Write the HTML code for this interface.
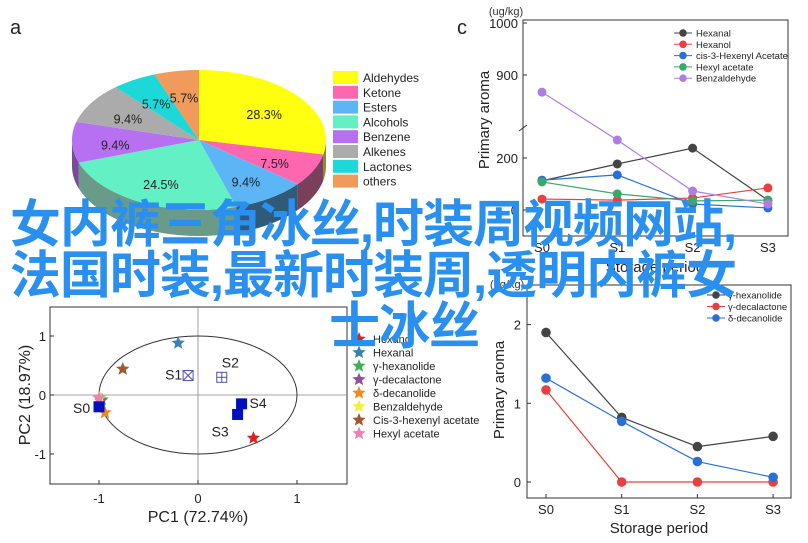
<!DOCTYPE html>
<html><head><meta charset="utf-8">
<style>
body{margin:0;background:#fff;width:808px;height:543px;overflow:hidden;position:relative;font-family:"Liberation Sans",sans-serif}
svg{position:absolute;left:0;top:0}
.ov{position:absolute;width:808px;text-align:center;font-family:"Liberation Sans","Noto Sans CJK SC",sans-serif;font-weight:bold;font-size:51px;line-height:51px;color:#2a90f0;letter-spacing:-1px;white-space:nowrap}
</style></head><body>
<svg id="chart" width="808" height="543" xmlns="http://www.w3.org/2000/svg" font-family="Liberation Sans, sans-serif"></svg>
<div class="ov" style="left:-31px;top:199px">女内裤三角冰丝,时装周视频网站,<br>法国时装,最新时装周,透明内裤女</div>
<div class="ov" style="left:0;top:301px">士冰丝</div>
<script>
// ---- Panel a data
const pieCats=["Aldehydes","Ketone","Esters","Alcohols","Benzene","Alkenes","Lactones","others"];
const pieVals=[28.3,7.5,9.4,24.5,9.4,9.4,5.7,5.7];
// ---- Panel c data
const cCats=["S0","S1","S2","S3"];
const cSeriesNames=["Hexanal","Hexanol","cis-3-Hexenyl Acetate","Hexyl acetate","Benzaldehyde"];
const cHexanal=[112,177,238,38];
const cHexanol=[42,38,46,85];
const cCis3=[115,135,23,8];
const cHexylAc=[108,62,35,38];
const cBenzald=[867,269,73,23];
// ---- Panel b data
const bLoadNames=["Hexanol","Hexanal","γ-hexanolide","γ-decalactone","δ-decanolide","Benzaldehyde","Cis-3-hexenyl acetate","Hexyl acetate"];
const bLoadX=[0.56,-0.2,-0.97,-0.98,-0.94,-0.99,-0.76,-1.0];
const bLoadY=[-0.73,0.88,-0.08,-0.1,-0.3,-0.05,0.44,-0.05];
const bSampNames=["S0","S1","S2","S3","S4"];
const bSampX=[-1.0,-0.1,0.24,0.4,0.44];
const bSampY=[-0.2,0.33,0.3,-0.33,-0.15];
// ---- Panel d data
const dCats=["S0","S1","S2","S3"];
const dNames=["γ-hexanolide","γ-decalactone","δ-decanolide"];
const dHex=[1.9,0.82,0.45,0.58];
const dDec=[1.17,0,0,0];
const dDel=[1.32,0.77,0.26,0.06];

const svg=document.getElementById('chart');
const NS="http://www.w3.org/2000/svg";
function mk(tag,attrs,parent,text){const e=document.createElementNS(NS,tag);for(const k in attrs)e.setAttribute(k,attrs[k]);if(text!==undefined)e.textContent=text;(parent||svg).appendChild(e);return e;}
function grp(name){const g=mk('g',{});return g;}

// ===== Panel a: 3D pie
(function(){
const g=grp('pie-chart-panel-a');
const t=mk('text',{x:10,y:34,'font-size':20,fill:'#222'},g,'a');

const cx=199,cy=140,rx=127,ry=70,depth=26;
const cols=["#ffff10","#ff66b0","#5cb6f6","#62f0c4","#b870f2","#ababab","#1cd8d8","#f09a5c"];
const side=["#8a8a30","#7a3f5a","#2f5a78","#6a9a8a","#7a4a9a","#666","#117878","#8a5a3a"];
const total=pieVals.reduce((a,b)=>a+b,0);
const P=(th,dy)=>[cx+rx*Math.cos(th),cy+ry*Math.sin(th)+(dy||0)];
let a=-Math.PI/2;const ang=[];
pieVals.forEach(v=>{const b=a+v/total*2*Math.PI;ang.push([a,b]);a=b;});
ang.forEach(([a0,a1],i)=>{
  const segs=[[Math.max(a0,0),Math.min(a1,Math.PI)],[Math.max(a0,2*Math.PI),Math.min(a1,3*Math.PI)]];
  segs.forEach(([s,e])=>{if(e<=s)return;
    let pts=[];for(let k=0;k<=20;k++){pts.push(P(s+(e-s)*k/20));}
    for(let k=20;k>=0;k--){pts.push(P(s+(e-s)*k/20,depth));}
    const p=mk('polygon',{points:pts.map(q=>q.join(',')).join(' '),fill:side[i]},g);
    
  });
});
ang.forEach(([a0,a1],i)=>{
  let d=`M${cx},${cy}`;for(let k=0;k<=30;k++){const q=P(a0+(a1-a0)*k/30);d+=` L${q[0]},${q[1]}`;}d+='Z';
  const p=mk('path',{d,fill:cols[i]},g);
  
  const m=(a0+a1)/2;const lp=[cx+rx*0.66*Math.cos(m),cy+ry*0.66*Math.sin(m)+4];
  const l=mk('text',{x:lp[0],y:lp[1]+4,'font-size':12.5,'text-anchor':'middle',fill:'#222'},g,pieVals[i].toFixed(1)+'%');
  
});
pieCats.forEach((c,i)=>{
  const y=71+i*14.8;
  const r=mk('rect',{x:333,y:y,width:25,height:13,fill:cols[i]},g);
  
  const t=mk('text',{x:363,y:y+11,'font-size':12,fill:'#222'},g,c);
  
});
})();

// ===== Panel c: broken axis lines
(function(){
const g=grp('line-chart-panel-c');
const L=523,R=788,T=20,B=236;
const xs=i=>542+i*75.3;
const yv=v=>v>=750? 23+(1000-v)*0.52 : 210-v*0.26;
const lab=mk('text',{x:457,y:34,'font-size':20,fill:'#222'},g,'c');
const u=mk('text',{x:506,y:15,'font-size':11,'text-anchor':'middle',fill:'#333'},g,'(ug/kg)');
const fr=mk('rect',{x:L,y:T,width:R-L,height:B-T,fill:'none',stroke:'#333','stroke-width':1},g);
mk('line',{x1:L-4,y1:131,x2:L+4,y2:125,stroke:'#333'},g);
[[1000,23],[900,75],[200,158],[0,210]].forEach(([v,y])=>{
  mk('line',{x1:L,y1:y,x2:L+4,y2:y,stroke:'#333'},g);
  const t=mk('text',{x:L-5,y:y+5,'font-size':13,'text-anchor':'end',fill:'#222'},g,String(v));
});
cCats.forEach((c,i)=>{const t=mk('text',{x:xs(i),y:252,'font-size':13,'text-anchor':'middle',fill:'#222'},g,c);});
const yt=mk('text',{x:0,y:0,'font-size':15,'text-anchor':'middle',fill:'#222',transform:'translate(489,120) rotate(-90)'},g,'Primary aroma');
const xt=mk('text',{x:655,y:272,'font-size':15,'text-anchor':'middle',fill:'#222'},g,'Storage period');
const series=[cHexanal,cHexanol,cCis3,cHexylAc,cBenzald];
const cols=["#444","#e84040","#2a6fd6","#3aa86a","#b07ee0"];
series.forEach((s,si)=>{
  const pts=s.map((v,i)=>xs(i)+','+yv(v)).join(' ');
  const pl=mk('polyline',{points:pts,fill:'none',stroke:cols[si],'stroke-width':1.2},g);
  
  s.forEach((v,i)=>{const c=mk('circle',{cx:xs(i),cy:yv(v),r:4.5,fill:cols[si]},g);});
  const y=33+si*11.3;
  mk('line',{x1:674,y1:y,x2:692,y2:y,stroke:cols[si]},g);
  mk('circle',{cx:683,cy:y,r:3.8,fill:cols[si]},g);
  const t=mk('text',{x:696,y:y+3.5,'font-size':9.5,fill:'#222'},g,cSeriesNames[si]);
});
})();

// ===== Panel b: PCA
(function(){
const g=grp('pca-plot-panel-b');
const L=50,R=347,T=307,B=484;
const xs=v=>198+v*99, ys=v=>395-v*59;
const fr=mk('rect',{x:L,y:T,width:R-L,height:B-T,fill:'none',stroke:'#333'},g);
mk('line',{x1:L,y1:395,x2:R,y2:395,stroke:'#888','stroke-width':0.8},g);
mk('line',{x1:198,y1:T,x2:198,y2:B,stroke:'#888','stroke-width':0.8},g);
const el=mk('ellipse',{cx:198,cy:395,rx:99,ry:59,fill:'none',stroke:'#333','stroke-width':1},g);
[-1,0,1].forEach(v=>{
  const t=mk('text',{x:xs(v),y:503,'font-size':13,'text-anchor':'middle',fill:'#222'},g,String(v));
  const t2=mk('text',{x:L-4,y:ys(v)+5,'font-size':13,'text-anchor':'end',fill:'#222'},g,String(v));
  mk('line',{x1:xs(v),y1:B,x2:xs(v),y2:B-4,stroke:'#333'},g);mk('line',{x1:L,y1:ys(v),x2:L+4,y2:ys(v),stroke:'#333'},g);
});
const xt=mk('text',{x:198,y:522,'font-size':16,'text-anchor':'middle',fill:'#222'},g,'PC1 (72.74%)');
const yt=mk('text',{x:0,y:0,'font-size':16,'text-anchor':'middle',fill:'#222',transform:'translate(30,395) rotate(-90)'},g,'PC2 (18.97%)');
const cols=["#e02020","#3a80b0","#40b050","#9050a0","#f08a20","#f0f040","#a05a30","#f080b0"];
function star(x,y,r,c){let p=[];for(let k=0;k<10;k++){const a=-Math.PI/2+k*Math.PI/5;const rr=k%2?r*0.45:r;p.push((x+rr*Math.cos(a))+','+(y+rr*Math.sin(a)));}return mk('polygon',{points:p.join(' '),fill:c},g);}
bLoadNames.forEach((n,i)=>{
  const s=star(xs(bLoadX[i]),ys(bLoadY[i]),7,cols[i]);
  const y=339+i*13.5;
  star(359,y,7,cols[i]);
  const t=mk('text',{x:373,y:y+4,'font-size':11,fill:'#222'},g,n);
});
bSampNames.forEach((n,i)=>{
  const x=xs(bSampX[i]),y=ys(bSampY[i]);
  const filled=(n==='S0'||n==='S3'||n==='S4');
  const r=mk('rect',{x:x-5,y:y-5,width:10,height:10,fill:filled?'#0010c0':'none',stroke:filled?'#0010c0':'#5050b0'},g);
  
  if(n==='S1'){mk('line',{x1:x-5,y1:y-5,x2:x+5,y2:y+5,stroke:'#5050b0'},g);mk('line',{x1:x+5,y1:y-5,x2:x-5,y2:y+5,stroke:'#5050b0'},g);}
  if(n==='S2'){mk('line',{x1:x,y1:y-5,x2:x,y2:y+5,stroke:'#5050b0'},g);mk('line',{x1:x-5,y1:y,x2:x+5,y2:y,stroke:'#5050b0'},g);}
  const off={S0:[-26,6],S1:[-23,4],S2:[0,-10],S3:[-26,22],S4:[8,4]}[n];
  const t=mk('text',{x:x+off[0],y:y+off[1],'font-size':14,fill:'#222'},g,n);
});
})();

// ===== Panel d
(function(){
const g=grp('line-chart-panel-d');
const L=527,R=791,T=285,B=498;
const xs=i=>546+i*75.7, ys=v=>482-v*78.7;
const fr=mk('rect',{x:L,y:T,width:R-L,height:B-T,fill:'none',stroke:'#333'},g);
[0,1,2].forEach(v=>{mk('line',{x1:L,y1:ys(v),x2:L+4,y2:ys(v),stroke:'#333'},g);const t=mk('text',{x:L-6,y:ys(v)+5,'font-size':13,'text-anchor':'end',fill:'#222'},g,String(v));});
dCats.forEach((c,i)=>{mk('line',{x1:xs(i),y1:B,x2:xs(i),y2:B-4,stroke:'#333'},g);const t=mk('text',{x:xs(i),y:514,'font-size':13,'text-anchor':'middle',fill:'#222'},g,c);});
const yt=mk('text',{x:0,y:0,'font-size':15,'text-anchor':'middle',fill:'#222',transform:'translate(504,390) rotate(-90)'},g,'Primary aroma');
const xt=mk('text',{x:659,y:533,'font-size':15,'text-anchor':'middle',fill:'#222'},g,'Storage period');
const u=mk('text',{x:490,y:288,'font-size':11,fill:'#333'},g,'(ug/kg)');
const series=[dHex,dDec,dDel];const cols=["#444","#e84040","#2a6fd6"];
series.forEach((s,si)=>{
  const pl=mk('polyline',{points:s.map((v,i)=>xs(i)+','+ys(v)).join(' '),fill:'none',stroke:cols[si],'stroke-width':1.2},g);
  
  s.forEach((v,i)=>{const c=mk('circle',{cx:xs(i),cy:ys(v),r:4.8,fill:cols[si]},g);});
  const y=295+si*11.5;
  mk('line',{x1:707,y1:y,x2:725,y2:y,stroke:cols[si]},g);mk('circle',{cx:716,cy:y,r:3.8,fill:cols[si]},g);
  const t=mk('text',{x:728,y:y+3.5,'font-size':9.5,fill:'#222'},g,dNames[si]);
});
})();
</script>
</body></html>
